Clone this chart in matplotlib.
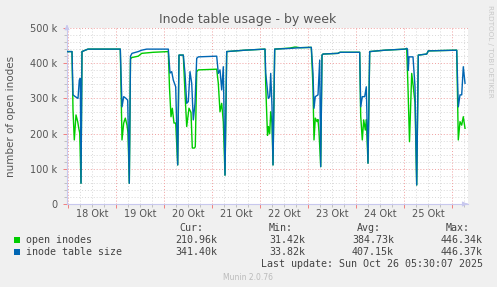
import matplotlib
matplotlib.use('Agg')
import matplotlib.pyplot as plt
from matplotlib.patches import Rectangle
from matplotlib.transforms import blended_transform_factory

# hours since 18 Okt 00:00, values in thousands
size_h = [-0.65, 1.85, 2.35, 3.5, 4.85, 5.5, 6.0, 6.35, 6.85, 8.5, 9.85, 26.0, 26.85, 27.7, 28.85, 29.7, 30.5,
          31.1, 31.85, 35.0, 36.7, 39.2, 50.0, 50.85, 51.7, 52.5, 53.7, 54.7, 55.35, 57.5, 58.35, 59.2, 60.0,
          60.85, 61.7, 62.5, 63.35, 64.2, 65.0, 74.2, 75.0, 75.85, 76.7, 77.5, 78.35, 79.2, 88.35, 98.35, 98.7,
          100.0, 100.7, 101.2, 101.85, 102.35, 103.2, 110.85, 115.85, 121.5, 122.35, 122.85, 123.5, 124.85,
          125.7, 126.2, 126.85, 127.35, 134.85, 135.85, 145.7, 146.2, 147.0, 148.2, 149.0, 149.85, 150.7,
          158.35, 168.35, 169.2, 169.6, 170.0, 170.35, 172.35, 173.35, 174.2, 175.0, 179.2, 180.0, 194.2,
          195.0, 195.85, 196.7, 197.5, 198.35]
size_v = [433, 433, 310, 305, 300, 352, 357, 59, 433, 437, 440, 440, 276, 305, 300, 295, 59,
          420, 428, 433, 437, 440, 440, 372, 376, 352, 333, 111, 423, 423, 371, 286, 291,
          376, 343, 239, 286, 414, 418, 420, 371, 381, 324, 390, 82, 433, 437, 440, 372,
          300, 305, 371, 276, 111, 440, 442, 444, 445, 371, 272, 305, 310,
          409, 106, 423, 426, 428, 431, 431, 276, 305, 305, 333, 116, 433,
          437, 440, 442, 440, 380, 418, 418, 333, 54, 423, 426, 435, 437,
          276, 310, 310, 390, 343]

open_h = [-0.65, 1.85, 2.35, 3.0, 3.85, 4.7, 5.2, 5.7, 6.35, 6.85, 8.5, 9.85, 26.0, 26.85, 27.7, 28.5, 29.35,
          29.85, 30.5, 31.1, 31.7, 35.0, 36.7, 42.5, 50.0, 50.6, 51.35, 52.0, 52.85, 53.7, 54.7, 55.35, 57.5,
          58.35, 59.2, 60.35, 61.35, 62.0, 63.1, 63.5, 64.2, 65.0, 74.2, 75.0, 75.85, 76.7, 77.5, 78.35, 79.2,
          88.35, 98.35, 98.7, 99.2, 99.6, 100.1, 100.7, 101.2, 101.85, 102.35, 103.2, 110.85, 113.35, 115.85,
          121.5, 122.35, 122.85, 123.5, 124.35, 124.85, 125.35, 126.2, 126.85, 127.35, 134.85, 135.85, 145.7,
          146.2, 147.0, 147.7, 148.5, 149.0, 149.85, 150.7, 158.35, 168.35, 169.2, 169.85, 170.6, 171.7,
          172.5, 173.35, 174.2, 175.0, 179.2, 180.0, 194.2, 195.0, 195.85, 196.7, 197.5, 198.35]
open_v = [433, 433, 267, 182, 253, 234, 216, 202, 59, 433, 437, 440, 440, 182, 230, 244, 224,
          202, 59, 412, 416, 420, 428, 431, 433, 330, 248, 272, 230, 230, 111, 423, 423,
          315, 220, 272, 260, 159, 159, 163, 376, 381, 383, 343, 262, 286, 234, 82, 433,
          437, 440, 340, 258, 195, 220, 200, 262, 230, 111, 440, 443, 446, 444,
          445, 330, 182, 244, 234, 240, 205, 106, 423, 426, 428, 431, 431,
          250, 182, 239, 210, 240, 116, 433, 437, 440, 442, 330, 177, 371,
          333, 287, 54, 423, 426, 435, 437, 182, 234, 224, 248, 215]

day_labels = ['18 Okt', '19 Okt', '20 Okt', '21 Okt', '22 Okt', '23 Okt', '24 Okt', '25 Okt']
y_ticks = [0, 100, 200, 300, 400, 500]
y_labels = ['0', '100 k', '200 k', '300 k', '400 k', '500 k']

series = ['open inodes', 'inode table size']
colors = ['#00cc00', '#0066b3']
cur = ['210.96k', '341.40k']
mins = ['31.42k', '33.82k']
avgs = ['384.73k', '407.15k']
maxs = ['446.34k', '446.37k']

W, H = 497, 287
fig = plt.figure(figsize=(W / 100, H / 100), dpi=100)
fig.patch.set_facecolor('#f0f0f0')

def fx(px):
    return px / W

def fy(py):
    return 1 - py / H

ax = fig.add_axes([fx(67), fy(204), fx(468) - fx(67), fy(28) - fy(204)])
ax.set_facecolor('white')
ax.set_xlim(-0.65, 199.85)
ax.set_ylim(0, 500)

# grid
for h in range(0, 200, 6):
    if h % 24 == 0:
        continue
    ax.axvline(h, color='#d8d8d8', lw=0.7, ls=(0, (1, 2)), zorder=1)
for v in range(20, 501, 20):
    if v % 100 == 0:
        continue
    ax.axhline(v, color='#d8d8d8', lw=0.7, ls=(0, (1, 2)), zorder=1)
for h in range(0, 200, 24):
    ax.axvline(h, color='#f0a0a0', lw=0.7, ls=(0, (1, 2)), zorder=1.5)
for v in range(100, 501, 100):
    ax.axhline(v, color='#f0a0a0', lw=0.7, ls=(0, (1, 2)), zorder=1.5)

ax.plot(open_h, open_v, color=colors[0], lw=1.0, zorder=3)
ax.plot(size_h, size_v, color=colors[1], lw=1.0, zorder=4)

for s in ['top', 'right']:
    ax.spines[s].set_visible(False)
for s in ['left', 'bottom']:
    ax.spines[s].set_color('#c8c8ee')
    ax.spines[s].set_linewidth(0.8)

ax.set_xticks(range(0, 200, 24))
ax.set_xticklabels([])
ax.set_xticks(range(0, 200, 6), minor=True)
ax.set_yticks(y_ticks)
ax.set_yticklabels(y_labels)
ax.set_yticks(range(0, 501, 20), minor=True)
ax.tick_params(axis='both', which='major', length=3, width=0.7, color='#f08080',
               labelsize=7, labelcolor='#555555', pad=4)
ax.tick_params(axis='both', which='minor', length=2, width=0.7, color='#c0c0c0')

trans = blended_transform_factory(ax.transData, ax.transAxes)
for i, lab in enumerate(day_labels):
    ax.text(12 + 24 * i, -0.03, lab, transform=trans, ha='center', va='top',
            fontsize=7, color='#555555')

# axis arrows
ax.annotate('', xy=(1.006, 0), xytext=(0.99, 0), xycoords='axes fraction',
            arrowprops=dict(arrowstyle='-|>', color='#c8c8ee', lw=0.8, mutation_scale=7),
            annotation_clip=False)
ax.annotate('', xy=(0, 1.035), xytext=(0, 0.99), xycoords='axes fraction',
            arrowprops=dict(arrowstyle='-|>', color='#c8c8ee', lw=0.8, mutation_scale=7),
            annotation_clip=False)

fig.text(fx(248), fy(19), 'Inode table usage - by week', ha='center', va='center',
         fontsize=9, color='#555555')
fig.text(fx(11), fy(116), 'number of open inodes', rotation=90, ha='center', va='center',
         fontsize=7.5, color='#555555')
fig.text(fx(490), fy(5), 'RRDTOOL / TOBI OETIKER', rotation=270, ha='center', va='top',
         fontsize=5.2, color='#c8c8c8')

mono = 'DejaVu Sans Mono'
fs = 7.2
tc = '#444444'
fig.text(fx(203), fy(228), 'Cur:', ha='right', va='center', family=mono, fontsize=fs, color=tc)
fig.text(fx(293), fy(228), 'Min:', ha='right', va='center', family=mono, fontsize=fs, color=tc)
fig.text(fx(381), fy(228), 'Avg:', ha='right', va='center', family=mono, fontsize=fs, color=tc)
fig.text(fx(470), fy(228), 'Max:', ha='right', va='center', family=mono, fontsize=fs, color=tc)
for i, name in enumerate(series):
    yy = 240 + 12 * i
    fig.patches.append(Rectangle((fx(14), fy(yy + 3)), fx(6), fy(0) - fy(6),
                                 transform=fig.transFigure, facecolor=colors[i], edgecolor='none'))
    fig.text(fx(26), fy(yy), name, ha='left', va='center', family=mono, fontsize=fs, color=tc)
    fig.text(fx(217), fy(yy), cur[i], ha='right', va='center', family=mono, fontsize=fs, color=tc)
    fig.text(fx(305), fy(yy), mins[i], ha='right', va='center', family=mono, fontsize=fs, color=tc)
    fig.text(fx(394), fy(yy), avgs[i], ha='right', va='center', family=mono, fontsize=fs, color=tc)
    fig.text(fx(483), fy(yy), maxs[i], ha='right', va='center', family=mono, fontsize=fs, color=tc)
fig.text(fx(483), fy(264), 'Last update: Sun Oct 26 05:30:07 2025', ha='right', va='center',
         family=mono, fontsize=fs, color=tc)
fig.text(fx(248), fy(277), 'Munin 2.0.76', ha='center', va='center', fontsize=5.5, color='#bbbbbb')

fig.savefig('out.png', dpi=100, facecolor=fig.get_facecolor())
